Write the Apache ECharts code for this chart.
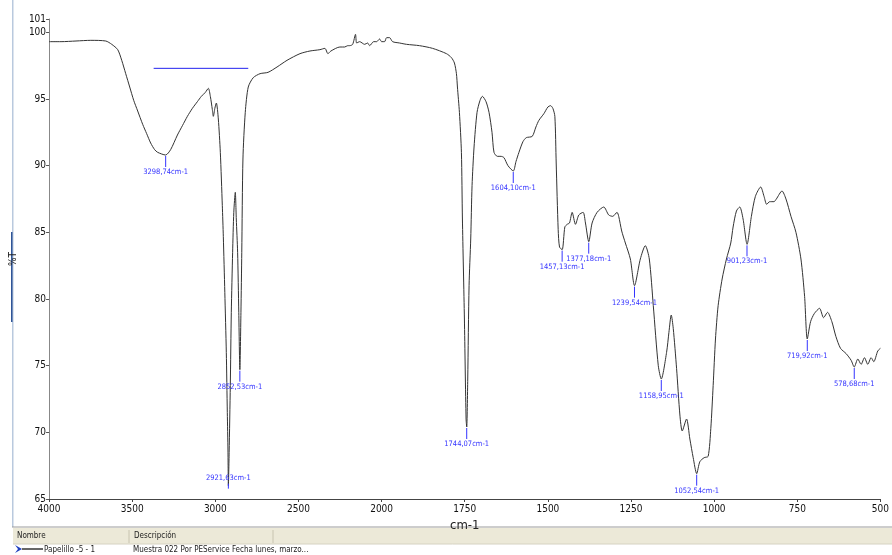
<!DOCTYPE html>
<html>
<head>
<meta charset="utf-8">
<script src="https://cdn.jsdelivr.net/npm/echarts@6/dist/echarts.min.js"></script>
<style>
html,body{margin:0;padding:0;background:#fff;}
#c{width:892px;height:555px;}
</style>
</head>
<body>
<div id="c"></div>
<script>
// ---- data ----
const tickLabels = ['4000','3500','3000','2500','2000','1750','1500','1250','1000','750','500'];
const yTicks = [65, 70, 75, 80, 85, 90, 95, 100, 101];

const wavenumbers = [
4000,3928,3838,3749,3659,3623,3587,3563,3539,3515,3491,3467,3437,3413,3389,3365,3347,3299,3269,3228,
3198,3168,3138,3108,3084,3060,3042,3030,3018,3012,3003,2994,2982,2970,2958,2952,2943,2934,2928,2924,
2921.6,2917,2910,2904,2896,2889,2880,2874,2866,2859,2852.5,2846,2841,2834,2820,2802,2772,2731,2683,2629,
2569,2491,2431,2371,2341,2323,2305,2251,2222,2204,2192,2174,2157,2150,2132,2102,2084,2072,2048,2030,
2012,2000,1991,1985,1976,1967,1946,1925,1886,1847,1805,1790,1781,1775,1772,1766,1760,1757,1751,1746,
1744,1741,1737,1732,1728,1722,1713,1704,1697,1686,1677,1668,1662,1652,1641,1632,1620,1604,1596,1587,
1575,1565,1547,1536,1527,1512,1500,1492,1485,1479,1475,1469,1465,1457,1449,1442,1435,1427,1417,1407,
1394,1387,1377,1367,1352,1332,1317,1305,1292,1287,1278,1267,1252,1239.5,1222,1207,1195,1183,1168,1159,
1143,1136,1129,1123,1113,1103,1096,1083,1073,1063,1052.5,1043,1030,1018,1010,1003,996,988,976,963,
950,943,933,923,913,901,888,876,860,850,842,833,820,813,796,784,769,754,739,728,
720,710,699,683,671,659,646,634,620,603,588,578.7,568,558,548,538,528,520,508,500
];
const transmittance = [
99.3,99.3,99.35,99.4,99.35,99.1,98.7,97.9,96.9,95.9,94.9,94.1,93.1,92.4,91.7,91.2,91.0,90.8,91.2,92.3,
93.0,93.7,94.3,94.8,95.2,95.5,95.8,95.2,94.2,93.7,94.3,94.7,93.5,91.0,87.0,84.7,80.5,76.0,71.5,68.6,
66.0,68.5,73.5,79.0,83.5,86.5,88.0,86.0,83.5,79.0,74.7,79.0,83.5,90.5,94.0,95.9,96.6,96.9,97.0,97.4,
97.9,98.4,98.6,98.7,98.8,98.4,98.6,98.9,98.9,99.0,99.0,99.1,99.85,99.2,99.3,99.1,99.2,99.0,99.3,99.3,
99.5,99.3,99.3,99.6,99.6,99.3,99.2,99.1,99.0,98.8,98.4,98.1,97.7,96.9,95.9,94.0,91.0,86.0,78.5,71.0,
70.4,74.0,81.0,84.5,88.5,91.4,94.0,94.9,95.2,94.8,94.0,92.5,91.0,90.7,90.7,90.6,90.0,89.6,90.3,91.0,
91.8,92.1,92.2,92.9,93.4,93.9,94.4,94.5,94.3,93.7,90.2,85.2,83.9,83.7,85.4,85.6,85.7,86.5,85.6,86.3,
86.5,85.7,84.3,85.7,86.5,86.9,86.3,86.2,86.5,86.2,85.1,84.2,83.0,81.0,83.0,84.0,83.0,79.5,75.0,74.0,
76.0,77.5,78.8,77.8,74.8,71.3,70.1,71.0,69.5,68.1,66.9,67.8,68.1,68.2,70.3,73.5,77.0,79.5,81.5,83.0,
84.2,85.4,86.6,86.9,86.0,84.1,86.2,87.7,88.4,87.7,87.1,87.3,87.3,87.5,88.1,87.5,86.2,85.0,83.0,80.2,
77.0,78.3,78.9,79.3,78.6,79.0,78.3,77.2,76.3,75.9,75.4,74.9,75.5,75.1,75.6,75.1,75.6,75.3,76.1,76.3
];

const peakWavenumbers = [3298.74,2921.63,2852.53,1744.07,1604.10,1457.13,1377.18,1239.54,1158.95,1052.54,901.23,719.92,578.68];
const peakTransmittance = [90.8,66.0,74.7,70.4,89.6,83.7,84.3,81.0,74.0,66.9,84.1,77.0,74.9];
const peakLabels = ['3298,74cm-1','2921,63cm-1','2852,53cm-1','1744,07cm-1','1604,10cm-1','1457,13cm-1','1377,18cm-1','1239,54cm-1','1158,95cm-1','1052,54cm-1','901,23cm-1','719,92cm-1','578,68cm-1'];
const peakAbove = [false,true,false,false,false,false,false,false,false,false,false,false,false];

const baselineWavenumbers = [3371, 2802];
const baselineTransmittance = [97.3, 97.3];

// ---- build ----
function toU(w){ return w >= 2000 ? (4000 - w) / 500 : 4 + (2000 - w) / 250; }
const FONT = "'Liberation Sans Narrow','DejaVu Sans Condensed','Liberation Sans',sans-serif";

const spectrum = wavenumbers.map((w,i)=>[toU(w), transmittance[i]]);
const baseline = baselineWavenumbers.map((w,i)=>[toU(w), baselineTransmittance[i]]);
const peaks = peakWavenumbers.map((w,i)=>[toU(w), peakTransmittance[i], i]);

const chart = echarts.init(document.getElementById('c'), null, {renderer:'canvas'});
chart.setOption({
  animation:false,
  backgroundColor:'#ffffff',
  grid:{left:48, right:9, top:19, bottom:56},
  xAxis:{
    type:'value', min:0, max:10, interval:1,
    name:'cm-1', nameLocation:'middle', nameGap:15,
    nameTextStyle:{fontFamily:FONT, fontSize:13, color:'#222'},
    axisLine:{lineStyle:{color:'#444', width:1}},
    axisTick:{show:true, length:3, lineStyle:{color:'#444'}},
    splitLine:{show:false},
    axisLabel:{fontFamily:FONT, fontSize:10, color:'#111', margin:5,
      formatter:(v)=>tickLabels[Math.round(v)]}
  },
  yAxis:{
    type:'value', min:65, max:101, interval:5,
    name:'%T', nameLocation:'middle', nameGap:30, nameRotate:90,
    nameTextStyle:{fontFamily:FONT, fontSize:10, color:'#222'},
    axisLine:{show:true, lineStyle:{color:'#888', width:1}},
    axisTick:{show:true, length:3, lineStyle:{color:'#555'}},
    splitLine:{show:false},
    axisLabel:{fontFamily:FONT, fontSize:10, color:'#111', margin:3,
      formatter:(v)=> yTicks.indexOf(v) >= 0 ? String(v) : ''}
  },
  series:[
    {
      type:'line', data:spectrum, showSymbol:false, smooth:0.25,
      lineStyle:{color:'#333333', width:1}, silent:true, z:2
    },
    {
      type:'line', data:baseline, showSymbol:false,
      lineStyle:{color:'#2222ee', width:1}, silent:true, z:3
    },
    {
      type:'custom', data:peaks, clip:false, silent:true, z:4,
      renderItem:(params, api)=>{
        const p = api.coord([api.value(0), api.value(1)]);
        const idx = api.value(2);
        const above = peakAbove[idx];
        const children = [];
        if (above) {
          children.push({type:'line', shape:{x1:p[0], y1:p[1]-2, x2:p[0], y2:p[1]+3}, style:{stroke:'#3333ff', lineWidth:1}});
          children.push({type:'text', x:p[0], y:p[1]-4, style:{text:peakLabels[idx], fill:'#3333ff', font:'7.5px '+FONT, textAlign:'center', textVerticalAlign:'bottom'}});
        } else {
          children.push({type:'line', shape:{x1:p[0], y1:p[1]+1, x2:p[0], y2:p[1]+12}, style:{stroke:'#3333ff', lineWidth:1}});
          children.push({type:'text', x:p[0], y:p[1]+13, style:{text:peakLabels[idx], fill:'#3333ff', font:'7.5px '+FONT, textAlign:'center', textVerticalAlign:'top'}});
        }
        return {type:'group', children};
      }
    }
  ],
  graphic:[
    {type:'rect', shape:{x:12, y:0, width:1.5, height:527}, style:{fill:'#b9c9de'}, silent:true},
    {type:'rect', shape:{x:11, y:232, width:1.5, height:90}, style:{fill:'#2f5597'}, silent:true},
    {type:'line', shape:{x1:12, y1:527, x2:892, y2:527}, style:{stroke:'#9a9a9a', lineWidth:1}, silent:true},
    {type:'rect', shape:{x:13, y:528, width:879, height:16}, style:{fill:'#ece9d8'}, silent:true},
    {type:'line', shape:{x1:13, y1:544, x2:892, y2:544}, style:{stroke:'#d6d2c2', lineWidth:1}, silent:true},
    {type:'line', shape:{x1:129, y1:530, x2:129, y2:543}, style:{stroke:'#c8c4b0', lineWidth:1}, silent:true},
    {type:'line', shape:{x1:273, y1:530, x2:273, y2:543}, style:{stroke:'#c8c4b0', lineWidth:1}, silent:true},
    {type:'text', x:17, y:536, style:{text:'Nombre', fill:'#222', font:'8px '+FONT, textVerticalAlign:'middle'}, silent:true},
    {type:'text', x:134, y:536, style:{text:'Descripción', fill:'#222', font:'8px '+FONT, textVerticalAlign:'middle'}, silent:true},
    {type:'polygon', shape:{points:[[15,545],[22,549],[15,553],[18,549]]}, style:{fill:'#1f3fbf'}, silent:true},
    {type:'line', shape:{x1:22, y1:549, x2:43, y2:549}, style:{stroke:'#000', lineWidth:1.2}, silent:true},
    {type:'text', x:44, y:549.5, style:{text:'Papelillo -5 - 1', fill:'#222', font:'8px '+FONT, textVerticalAlign:'middle'}, silent:true},
    {type:'text', x:133, y:549.5, style:{text:'Muestra 022 Por PEService Fecha lunes, marzo...', fill:'#222', font:'8px '+FONT, textVerticalAlign:'middle'}, silent:true}
  ]
});
</script>
</body>
</html>
